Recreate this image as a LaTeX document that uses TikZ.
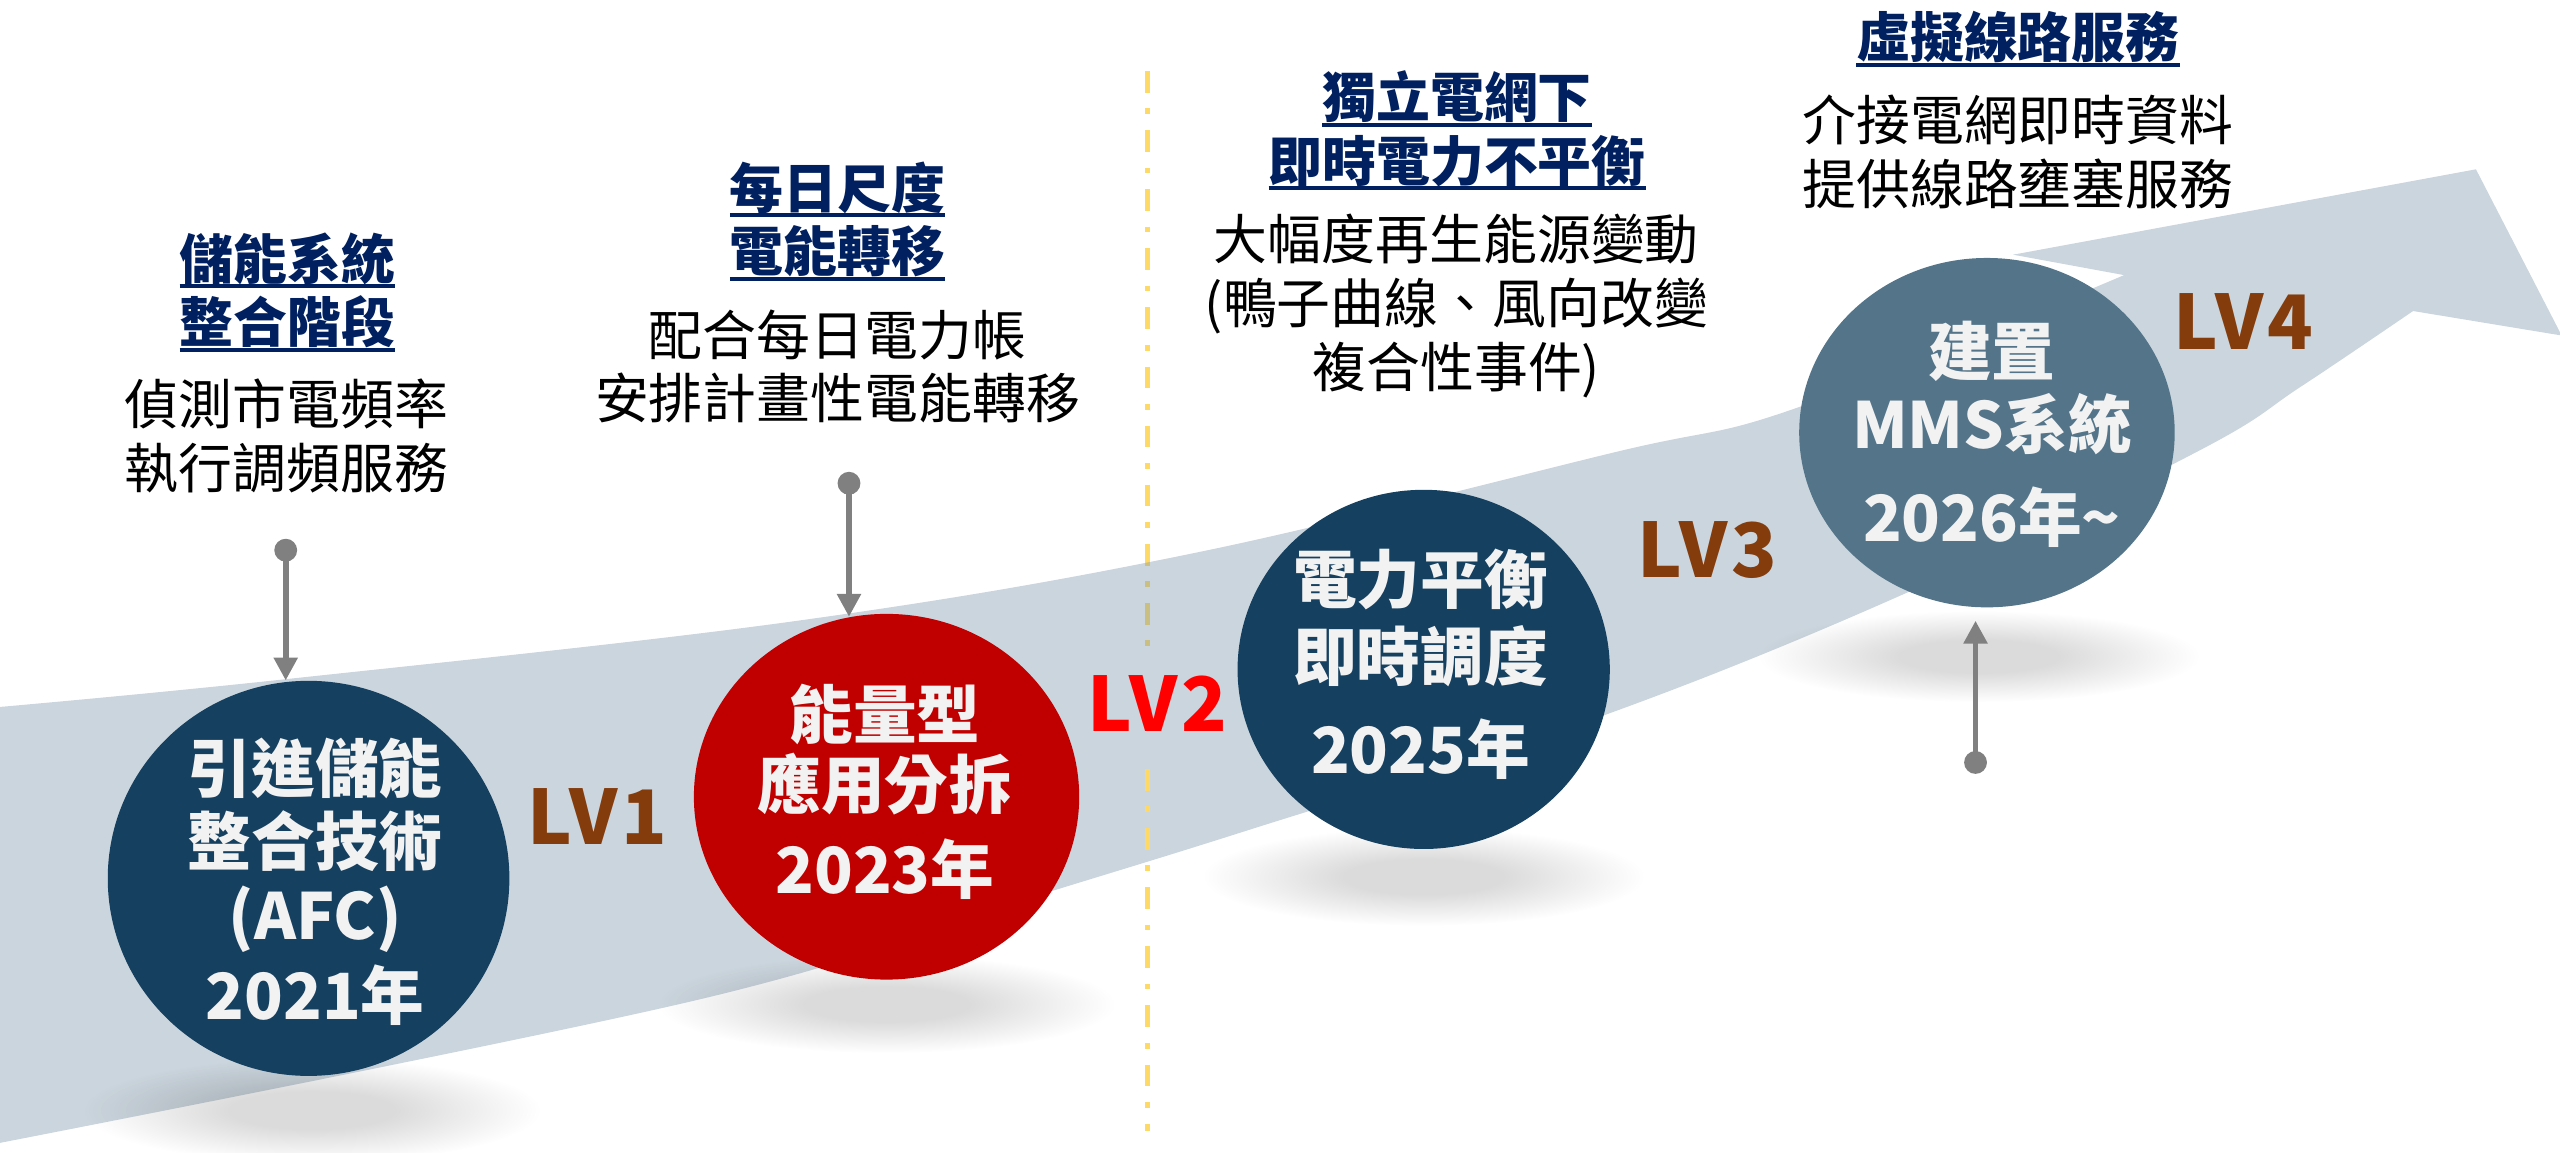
\documentclass[tikz,border=0pt]{standalone}
\usepackage{fontspec}
\setmainfont{Noto Sans CJK TC}
\usetikzlibrary{arrows.meta,fadings,shapes.geometric}
\definecolor{navy}{RGB}{21,64,96}
\definecolor{titleblue}{RGB}{0,32,96}
\definecolor{cred}{RGB}{192,0,0}
\definecolor{slate}{RGB}{83,116,137}
\definecolor{bandbase}{RGB}{125,150,170}
\definecolor{lvbrown}{RGB}{132,60,12}
\definecolor{lvred}{RGB}{255,0,0}
\definecolor{gold}{RGB}{255,217,102}
\definecolor{arrowgray}{RGB}{128,128,128}
\definecolor{circtext}{RGB}{242,242,242}
\pgfdeclareradialshading{shadowshade}{\pgfpointorigin}{color(0bp)=(pgftransparent!0); color(9bp)=(pgftransparent!0); color(25bp)=(pgftransparent!100); color(50bp)=(pgftransparent!100)}
\pgfdeclarefading{softshadow}{\pgfuseshading{shadowshade}}
\newsavebox\ulbox
\newcommand\ulx[1]{\sbox\ulbox{#1}\rlap{\rule[-5.5pt]{\wd\ulbox}{2.4pt}}\usebox\ulbox}
\begin{document}
\begin{tikzpicture}[x=1pt,y=-1pt,
  title/.style={font=\bfseries\fontsize{33}{39}\selectfont, text=titleblue, align=center, inner sep=0pt},
  body/.style={font=\fontsize{33}{39}\selectfont, text=black, align=center, inner sep=0pt},
  ctext/.style={font=\bfseries\fontsize{39}{45}\selectfont, text=circtext, align=center, inner sep=0pt},
  lvl/.style={font=\bfseries\fontsize{46}{50}\selectfont\addfontfeature{LetterSpace=5}, text=lvbrown, inner sep=0pt},
  milestone/.style={ellipse, inner sep=0pt},
  pin/.style={circle, fill=arrowgray, minimum size=14pt, inner sep=0pt},
  pinarrow/.style={draw=arrowgray, line width=3.5pt, -{Triangle[width=14pt,length=14pt]}},
  divider/.style={draw=gold, line width=3.3pt, dash pattern=on 13.3pt off 9.6pt on 3.5pt off 9.8pt},
  shadowblob/.style={fill=black, fill opacity=0.14, path fading=softshadow},
  band/.style={fill=bandbase, fill opacity=0.4}
]
\useasboundingbox (0,0) rectangle (1568,706);
\clip (0,0) rectangle (1568,706);

% divider, upper part (behind band)
\coordinate (dvA) at (703,43.5);
\coordinate (dvB) at (703,396);
\coordinate (dvC) at (703,471);
\coordinate (dvD) at (703,693);
\draw[divider] (dvA) -- (dvB);

% big curved arrow band
\fill[band] plot[smooth, tension=0.6] coordinates {(0,433) (175,416) (490,380) (735,338) (989,277) (1100,250) (1301,168.5)}
  -- (1233,156) -- (1516.5,103.7) -- (1569,205.5) -- (1478,190.5)
  -- plot[smooth, tension=0.6] coordinates {(1478,190.5) (1409,237) (1347,276) (1168,363) (980,439) (766,508) (637,548) (429,612) (0,700)} -- cycle;

% divider, lower part
\draw[divider] (dvC) -- (dvD);

% shadows
\fill[shadowblob] (191,680) ellipse (140 and 32);
\fill[shadowblob] (543,615) ellipse (140 and 30);
\fill[shadowblob] (872,537) ellipse (135 and 30);
\fill[shadowblob] (1212,402) ellipse (135 and 28);

% milestones
\node[milestone, fill=navy, minimum width=246pt, minimum height=242pt] (c1) at (189,538) {};
\node[milestone, fill=cred, minimum width=236pt, minimum height=224pt] (c2) at (543,488) {};
\node[milestone, fill=navy, minimum width=228pt, minimum height=220pt] (c3) at (872,410) {};
\node[milestone, fill=slate, minimum width=230pt, minimum height=214pt] (c4) at (1217,265) {};

\node[ctext] (t1) at (193,540) {引進儲能\\整合技術\\(AFC)\\[4pt]2021年};
\node[ctext] (t2) at (542,485) {能量型\\[-2pt]應用分拆\\[7pt]2023年};
\node[ctext] (t3) at (870,407) {電力平衡\\[2pt]即時調度\\[12pt]2025年};
\node[ctext] (t4) at (1220,266) {建置\\MMS系統\\[12pt]2026年\textasciitilde};

% level labels
\node[lvl] (lv1) at (366,500) {LV1};
\node[lvl, text=lvred] (lv2) at (709,431) {LV2};
\node[lvl] (lv3) at (1046,337) {LV3};
\node[lvl] (lv4) at (1374,197) {LV4};

% pins and arrows
\node[pin] (d1) at (175,337) {};
\node[pin] (d2) at (520,296) {};
\node[pin] (d4) at (1210,467) {};
\draw[pinarrow] (d1.center) -- (d1 |- c1.north);
\draw[pinarrow] (d2.center) -- ([yshift=-2pt]d2 |- c2.north);
\draw[pinarrow, shorten >=8pt] (d4.center) -- (d4 |- c4.south);

% descriptions
\node[title] (h1) at (176,179) {\ulx{儲能系統}\\\ulx{整合階段}};
\node[body] (b1) at (175.5,267) {偵測市電頻率\\執行調頻服務};
\node[title] (h2) at (513,135.5) {\ulx{每日尺度}\\\ulx{電能轉移}};
\node[body] (b2) at (513,224.5) {配合每日電力帳\\安排計畫性電能轉移};
\node[title] (h3) at (892.5,80) {\ulx{獨立電網下}\\\ulx{即時電力不平衡}};
\node[body] (b3) at (892,187.5) {大幅度再生能源變動\\(鴨子曲線、風向改變\\複合性事件)};
\node[title] (h4) at (1236,24) {\ulx{虛擬線路服務}};
\node[body] (b4) at (1236,93) {介接電網即時資料\\提供線路壅塞服務};
\end{tikzpicture}
\end{document}
